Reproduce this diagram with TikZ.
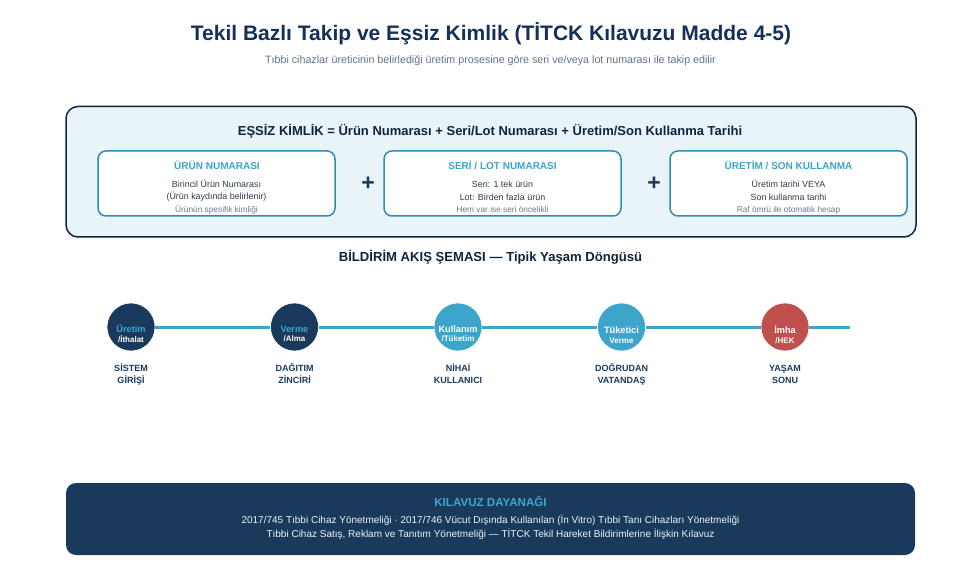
\documentclass[tikz,border=0pt]{standalone}
\usepackage{fontspec}
\setmainfont{Liberation Sans}
\definecolor{navy}{HTML}{1A3A5C}
\definecolor{ink}{HTML}{0F2440}
\definecolor{deepblue}{HTML}{12305A}
\definecolor{sky}{HTML}{3DA5CC}
\definecolor{teal}{HTML}{2A8FB0}
\definecolor{paleblue}{HTML}{E8F4F8}
\definecolor{brick}{HTML}{C0504D}
\definecolor{bodytext}{HTML}{2C3E50}
\definecolor{graytext}{HTML}{6B7A8A}
\definecolor{subtext}{HTML}{5F7285}
\definecolor{lightline}{HTML}{E8F4F8}
\newcommand{\px}[1]{\fontsize{#1}{#1}\selectfont}
\tikzset{
  cardbox/.style={fill=white, draw=teal, line width=1.5pt, rounded corners=8pt},
  cardtitle/.style={font=\px{10}\bfseries, text=sky},
  cardtext/.style={font=\px{8.9}, text=bodytext},
  cardnote/.style={font=\px{8.3}, text=graytext},
  plussign/.style={font=\px{23}\bfseries, text=navy},
  stagedot/.style={circle, minimum size=48pt, inner sep=0pt, draw=white, line width=0.6pt},
  stagetop/.style={font=\px{9.2}\bfseries},
  stagesub/.style={font=\px{8}\bfseries, text=white},
  stagelabel/.style={font=\fontsize{9}{12}\selectfont\bfseries, text=navy, align=center},
  flowline/.style={sky, line width=3pt}
}
\begin{document}
\begin{tikzpicture}[x=1pt, y=-1pt]
  \useasboundingbox (0,0) rectangle (980,572);
  \def\ycard{151}

  \node (title) [font=\px{21}\bfseries, text=deepblue] at (491,34) {Tekil Bazlı Takip ve Eşsiz Kimlik (TİTCK Kılavuzu Madde 4-5)};
  \node (subtitle) [font=\px{10.7}, text=subtext] at (490.5,60.5) {Tıbbi cihazlar üreticinin belirlediği üretim prosesine göre seri ve/veya lot numarası ile takip edilir};

  % kimlik paneli
  \filldraw[fill=paleblue, draw=ink, line width=1.5pt, rounded corners=12pt] (66,106.5) rectangle (916,237);
  \node (formula) [font=\px{13}\bfseries, text=ink] at (490,131) {EŞSİZ KİMLİK = Ürün Numarası + Seri/Lot Numarası + Üretim/Son Kullanma Tarihi};

  \begin{scope}[xshift=98pt]
    \filldraw[cardbox] (0,\ycard) rectangle (237,216);
    \node (urunT) [cardtitle] at (119,165.5) {ÜRÜN NUMARASI};
    \node (urunA) [cardtext] at (118.5,184) {Birincil Ürün Numarası};
    \node (urunB) [cardtext] at (118.5,197) {(Ürün kaydında belirlenir)};
    \node (urunC) [cardnote] at (118.5,210) {Ürünün spesifik kimliği};
  \end{scope}

  \begin{scope}[xshift=384pt]
    \filldraw[cardbox] (0,\ycard) rectangle (237,216);
    \node (seriT) [cardtitle] at (118.5,165.5) {SERİ / LOT NUMARASI};
    \node (seriA) [cardtext] at (118.5,184) {Seri: 1 tek ürün};
    \node (seriB) [cardtext] at (118.5,197) {Lot: Birden fazla ürün};
    \node (seriC) [cardnote] at (118.5,210) {Hem var ise seri öncelikli};
  \end{scope}

  \begin{scope}[xshift=670pt]
    \filldraw[cardbox] (0,\ycard) rectangle (237,216);
    \node (uretT) [cardtitle] at (118.5,165.5) {ÜRETİM / SON KULLANMA};
    \node (uretA) [cardtext] at (118.5,184) {Üretim tarihi VEYA};
    \node (uretB) [cardtext] at (118.5,197) {Son kullanma tarihi};
    \node (uretC) [cardnote] at (118.5,210) {Raf ömrü ile otomatik hesap};
  \end{scope}

  \node (plusA) [plussign] at (368,184) {+};
  \node (plusB) [plussign] at (654,184) {+};

  \node (flowtitle) [font=\px{13.1}\bfseries, text=ink] at (490.5,257.5) {BİLDİRİM AKIŞ ŞEMASI — Tipik Yaşam Döngüsü};

  % akis
  \node (uretim) [stagedot, fill=navy] at (131,327) {};
  \node (verme) [stagedot, fill=navy] at (294.5,327) {};
  \node (kullanim) [stagedot, fill=sky] at (458,327) {};
  \node (tuketici) [stagedot, fill=sky] at (621.5,327) {};
  \node (imha) [stagedot, fill=brick] at (785,327) {};
  \coordinate (flowend) at (850,327);

  \draw[flowline] (uretim) -- (verme);
  \draw[flowline] (verme) -- (kullanim);
  \draw[flowline] (kullanim) -- (tuketici);
  \draw[flowline] (tuketici) -- (imha);
  \draw[flowline] (imha) -- (flowend);

  \node (uretimT) [stagetop, text=sky] at (131,329) {Üretim};
  \node (uretimS) [stagesub] at (131,339) {/İthalat};
  \node (vermeT) [stagetop, text=sky] at (294.5,329) {Verme};
  \node (vermeS) [stagesub] at (294.5,339) {/Alma};
  \node (kullanimT) [stagetop, text=white] at (458,329) {Kullanım};
  \node (kullanimS) [stagesub] at (458,339) {/Tüketim};
  \node (tuketiciT) [stagetop, text=white] at (621.5,330) {Tüketici};
  \node (tuketiciS) [stagesub] at (621.5,341) {Verme};
  \node (imhaT) [stagetop, text=white] at (785,330) {İmha};
  \node (imhaS) [stagesub] at (785,341) {/HEK};

  \node (uretimL) [stagelabel] at (131,375.5) {\strut SİSTEM\\\strut GİRİŞİ};
  \node (vermeL) [stagelabel] at (294.5,375.5) {\strut DAĞITIM\\\strut ZİNCİRİ};
  \node (kullanimL) [stagelabel] at (458,375.5) {\strut NİHAİ\\\strut KULLANICI};
  \node (tuketiciL) [stagelabel] at (621.5,375.5) {\strut DOĞRUDAN\\\strut VATANDAŞ};
  \node (imhaL) [stagelabel] at (785,375.5) {\strut YAŞAM\\\strut SONU};

  % dayanak
  \fill[navy, rounded corners=10pt] (66,483) rectangle (915,555);
  \node (baseT) [font=\px{11.6}\bfseries, text=sky] at (490.5,501) {KILAVUZ DAYANAĞI};
  \node (baseA) [font=\px{10}, text=lightline] at (490.5,520) {2017/745 Tıbbi Cihaz Yönetmeliği · 2017/746 Vücut Dışında Kullanılan (İn Vitro) Tıbbi Tanı Cihazları Yönetmeliği};
  \node (baseB) [font=\px{10}, text=lightline] at (490.5,534.5) {Tıbbi Cihaz Satış, Reklam ve Tanıtım Yönetmeliği — TİTCK Tekil Hareket Bildirimlerine İlişkin Kılavuz};
\end{tikzpicture}
\end{document}
